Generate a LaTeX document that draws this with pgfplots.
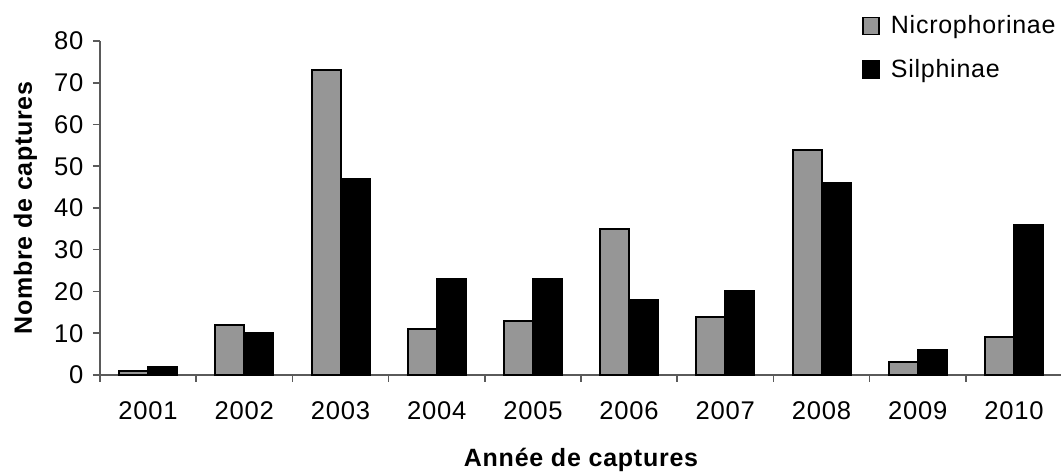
\documentclass[border=0pt]{standalone}
\usepackage{fontspec}
\setmainfont[LetterSpace=3]{Liberation Sans}
\usepackage{pgfplots}
\pgfplotsset{compat=1.18}
\definecolor{barg}{RGB}{150,150,150}
\definecolor{axc}{RGB}{90,90,90}
\begin{document}
\begin{tikzpicture}
\path[use as bounding box] (-50pt,-49.5pt) rectangle (480.5pt,187.5pt);
\begin{axis}[
  at={(0,0)}, anchor=south west,
  scale only axis, width=481pt, height=167pt,
  xmin=-0.5, xmax=9.5, ymin=0, ymax=80,
  axis x line=bottom, axis y line=left,
  axis line style={-, axc, line width=0.75pt},
  ybar=0pt, bar width=14.5pt,
  xtick={0,...,9},
  xticklabels={2001,2002,2003,2004,2005,2006,2007,2008,2009,2010},
  major x tick style={draw=none},
  minor xtick={-0.5,0.5,...,9.5},
  ytick={0,10,...,80},
  tick align=outside,
  major tick length=3.5pt, minor tick length=3.5pt,
  every tick/.style={axc, line width=0.75pt},
  /pgf/number format/assume math mode=true,
  tick label style={font=\fontsize{12.8}{14}\selectfont, text=black},
  xticklabel style={yshift=-6.3pt},
  yticklabel style={xshift=-1.3pt},
  xlabel={Année de captures},
  ylabel={Nombre de captures},
  label style={font=\fontsize{12.5}{14}\selectfont\bfseries},
  xlabel style={at={(axis description cs:0.5,-0.2754)}, anchor=base},
  ylabel style={at={(axis description cs:-0.0707,0.5)}, anchor=base},
  legend style={at={(0.7921,1.0887)}, anchor=north west, draw=none, fill=none,
    inner sep=0pt, row sep=7pt, font=\fontsize{12.5}{14}\selectfont,
    legend cell align=left,
    /tikz/every odd column/.append style={column sep=3.5pt}},
  legend image code/.code={\draw[#1, line width=0.75pt] (0pt,-4.2pt) rectangle (8pt,4.3pt);},
  clip=false,
]
\addplot[fill=barg, draw=black, line width=1pt] coordinates {
 (0,1) (1,12) (2,73) (3,11) (4,13) (5,35) (6,14) (7,54) (8,3) (9,9)};
\addplot[fill=black, draw=black, line width=1pt] coordinates {
 (0,2) (1,10) (2,47) (3,23) (4,23) (5,18) (6,20) (7,46) (8,6) (9,36)};
\legend{Nicrophorinae, Silphinae}
\end{axis}
\end{tikzpicture}
\end{document}
